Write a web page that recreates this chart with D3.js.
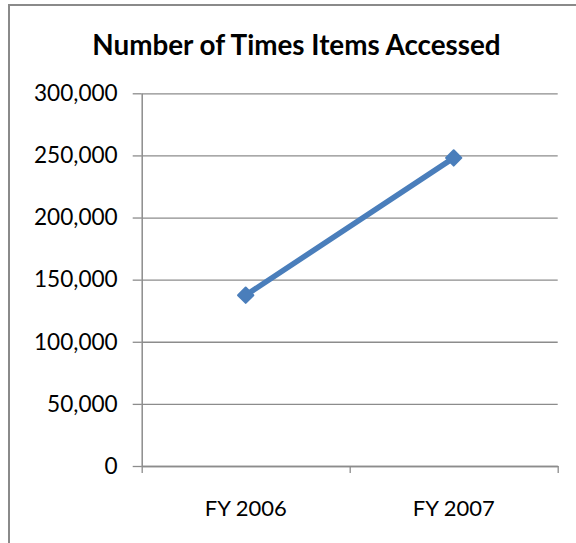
<!DOCTYPE html>
<html>
<head>
<meta charset="utf-8">
<script src="https://cdn.jsdelivr.net/npm/d3@7"></script>
<style>
  html, body { margin: 0; padding: 0; background: #fff; }
  svg { display: block; }
  text { font-family: Lato, "Open Sans", sans-serif; fill: #000; }
</style>
</head>
<body>
<svg id="chart" width="576" height="543"></svg>
<script>
const title = "Number of Times Items Accessed";
const categories = ["FY 2006", "FY 2007"];
const values = [137500, 248000];
const yTicks = [0, 50000, 100000, 150000, 200000, 250000, 300000];

const svg = d3.select("#chart");
const plot = { left: 141.7, right: 557.7, top: 93.3, bottom: 466 };

// chart area border (extends beyond the image on right/bottom)
svg.append("rect")
  .attr("x", 9).attr("y", 5)
  .attr("width", 600).attr("height", 600)
  .attr("fill", "#fff")
  .attr("stroke", "#8a8a8a")
  .attr("stroke-width", 2);

svg.append("text")
  .attr("x", 296.5).attr("y", 55)
  .attr("text-anchor", "middle")
  .attr("font-weight", "bold")
  .attr("font-size", 27.8)
  .text(title);

const y = d3.scaleLinear().domain([0, 300000]).range([plot.bottom, plot.top]);
const x = d3.scaleBand().domain(categories).range([plot.left, plot.right]).padding(0);
const xEdges = d3.scaleLinear().domain([0, categories.length]).range([plot.left, plot.right]);

const fmt = d3.format(",");

// gridlines
const grid = svg.append("g")
  .attr("transform", `translate(${plot.left},0)`)
  .call(d3.axisLeft(y).tickValues(yTicks).tickSize(-(plot.right - plot.left)).tickFormat(""));
grid.select(".domain").remove();
grid.selectAll("line").attr("stroke", "#8c8c8c").attr("stroke-width", 1.3);

// y axis
const yAxis = svg.append("g")
  .attr("transform", `translate(${plot.left},0)`)
  .call(d3.axisLeft(y).tickValues(yTicks).tickSizeInner(9).tickSizeOuter(0).tickPadding(15).tickFormat(fmt));
yAxis.select(".domain").attr("stroke", "#8c8c8c").attr("stroke-width", 1.5);
yAxis.selectAll(".tick line").attr("stroke", "#8c8c8c").attr("stroke-width", 1.3);
yAxis.selectAll(".tick text").attr("font-size", 22.6).attr("font-family", "Lato, sans-serif").attr("fill", "#000");

// x axis line + boundary ticks
const xAxis = svg.append("g")
  .attr("transform", `translate(0,${plot.bottom})`)
  .call(d3.axisBottom(xEdges).tickValues(d3.range(categories.length + 1)).tickSizeInner(7).tickSizeOuter(0).tickFormat(""));
xAxis.select(".domain").attr("stroke", "#8c8c8c").attr("stroke-width", 1.5);
xAxis.selectAll(".tick line").attr("stroke", "#8c8c8c").attr("stroke-width", 1.3);

// x labels
const xLab = svg.append("g")
  .attr("transform", `translate(0,${plot.bottom})`)
  .call(d3.axisBottom(x).tickSize(0).tickPadding(34));
xLab.select(".domain").remove();
xLab.selectAll(".tick text").attr("font-size", 22).attr("font-family", "Lato, sans-serif").attr("fill", "#000");

// line series
const pts = categories.map((c, i) => ({ c, v: values[i] }));
const line = d3.line().x(d => x(d.c) + x.bandwidth() / 2).y(d => y(d.v));
svg.append("path")
  .datum(pts)
  .attr("d", line)
  .attr("fill", "none")
  .attr("stroke", "#4a7ebb")
  .attr("stroke-width", 5.5)
  .attr("stroke-linecap", "round");

const diamond = d3.symbol().type(d3.symbolDiamond2).size(150);
svg.selectAll(".marker")
  .data(pts)
  .join("path")
  .attr("class", "marker")
  .attr("transform", d => `translate(${x(d.c) + x.bandwidth() / 2},${y(d.v)})`)
  .attr("d", diamond)
  .attr("fill", "#4a7ebb")
  .attr("stroke", "#4a7ebb")
  .attr("stroke-width", 2)
  .attr("stroke-linejoin", "round");
</script>
</body>
</html>
